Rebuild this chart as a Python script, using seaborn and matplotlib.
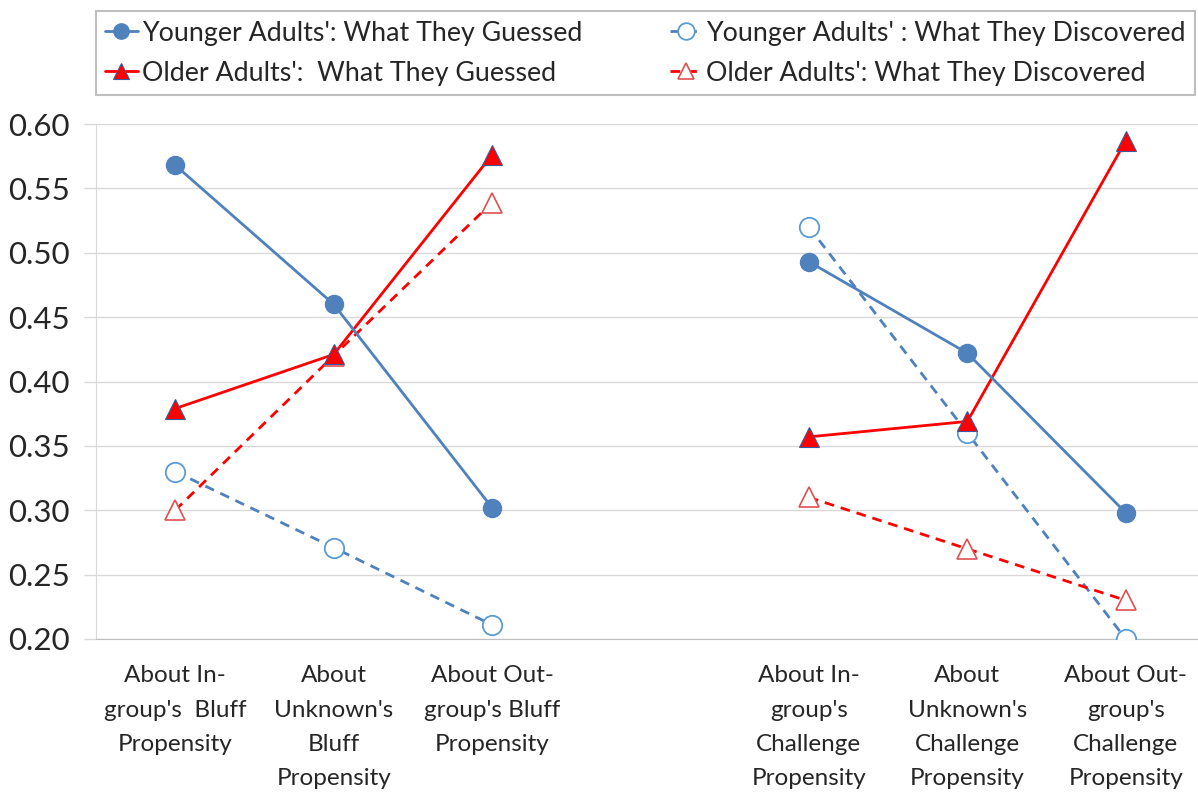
import numpy as np
import pandas as pd
import seaborn as sns
import matplotlib.pyplot as plt
from matplotlib.lines import Line2D
from matplotlib.ticker import FixedLocator

sns.set_style("white")
plt.rcParams['font.family'] = ['Lato', 'DejaVu Sans']

# categories (slot 3 is an empty gap between the two groups)
categories = ["About In-\ngroup's  Bluff\nPropensity",
              "About\nUnknown's\nBluff\nPropensity",
              "About Out-\ngroup's Bluff\nPropensity",
              "About In-\ngroup's\nChallenge\nPropensity",
              "About\nUnknown's\nChallenge\nPropensity",
              "About Out-\ngroup's\nChallenge\nPropensity"]
positions = [0, 1, 2, 4, 5, 6]
groups = ['bluff', 'bluff', 'bluff', 'challenge', 'challenge', 'challenge']

young_guessed = [0.568, 0.460, 0.302, 0.493, 0.422, 0.298]
young_discovered = [0.330, 0.271, 0.211, 0.520, 0.360, 0.200]
older_guessed = [0.379, 0.421, 0.576, 0.357, 0.369, 0.587]
older_discovered = [0.300, 0.420, 0.539, 0.310, 0.270, 0.230]

labels = ["Younger Adults': What They Guessed",
          "Younger Adults' : What They Discovered",
          "Older Adults':  What They Guessed",
          "Older Adults': What They Discovered"]

blue = '#4f81bd'
red = '#ff0000'
styles = {
    labels[0]: dict(color=blue, ls='-', marker='o', ms=13, mfc=blue, mec=blue, mew=1),
    labels[1]: dict(color=blue, ls=(0, (3.5, 2.5)), marker='o', ms=14, mfc='white', mec='#5b9bd5', mew=1.3),
    labels[2]: dict(color=red, ls='-', marker='^', ms=14, mfc=red, mec='#3a5a9a', mew=0.8),
    labels[3]: dict(color=red, ls=(0, (3.5, 2.5)), marker='^', ms=14, mfc='white', mec='#e05050', mew=1.2),
}
series = {labels[0]: young_guessed, labels[1]: young_discovered,
          labels[2]: older_guessed, labels[3]: older_discovered}

fig = plt.figure(figsize=(11.98, 7.97), dpi=100)
ax = fig.add_axes([96 / 1198, 158 / 797, 1109 / 1198, 515 / 797])

order = [labels[1], labels[3], labels[2], labels[0]]
for name in order:
    df = pd.DataFrame({'x': positions, 'y': series[name], 'group': groups})
    st = styles[name]
    sns.lineplot(data=df, x='x', y='y', units='group', estimator=None, ax=ax,
                 color=st['color'], linestyle=st['ls'], linewidth=2.0,
                 marker=st['marker'], markersize=st['ms'], markerfacecolor=st['mfc'],
                 markeredgecolor=st['mec'], markeredgewidth=st['mew'], legend=False,
                 zorder=3)

ax.set_xlim(-0.5, 6.5)
ax.set_ylim(0.2, 0.6)
ax.set_yticks(np.arange(0.2, 0.601, 0.05))
ax.set_yticklabels([f'{v:.2f}' for v in np.arange(0.2, 0.601, 0.05)], fontsize=22.5)
ax.set_xticks(positions)
ax.set_xticklabels(categories, fontsize=17.5, linespacing=1.78)
ax.xaxis.set_minor_locator(FixedLocator(np.arange(-0.5, 6.6, 1)))
ax.tick_params(axis='x', which='major', length=0, pad=19)
ax.tick_params(axis='x', which='minor', length=7, color='#bfbfbf', width=1, direction='out')
ax.tick_params(axis='y', length=9, color='#d9d9d9', width=1, pad=10, left=True)
ax.yaxis.grid(True, color='#d9d9d9', linewidth=1)
ax.set_xlabel('')
ax.set_ylabel('')
for s in ['top', 'right']:
    ax.spines[s].set_visible(False)
ax.spines['left'].set_color('#d9d9d9')
ax.spines['bottom'].set_color('#bfbfbf')

handles = []
for name in [labels[0], labels[2], labels[1], labels[3]]:
    st = styles[name]
    handles.append(Line2D([], [], color=st['color'], linestyle=st['ls'], linewidth=2.0,
                          marker=st['marker'], markersize=st['ms'] - 2, markerfacecolor=st['mfc'],
                          markeredgecolor=st['mec'], markeredgewidth=st['mew']))
leg = fig.legend(handles, [labels[0], labels[2], labels[1], labels[3]], ncol=2,
                 loc='lower left', bbox_to_anchor=(96 / 1198, 702 / 797, 1099 / 1198, 85 / 797),
                 mode='expand', fontsize=19.3, frameon=True, fancybox=False,
                 handlelength=1.2, handletextpad=0.15, borderaxespad=0, labelspacing=0.55,
                 borderpad=0.35)
leg.get_frame().set_edgecolor('#b0b0b0')
leg.get_frame().set_linewidth(1.5)

fig.savefig('out.png', dpi=100)
